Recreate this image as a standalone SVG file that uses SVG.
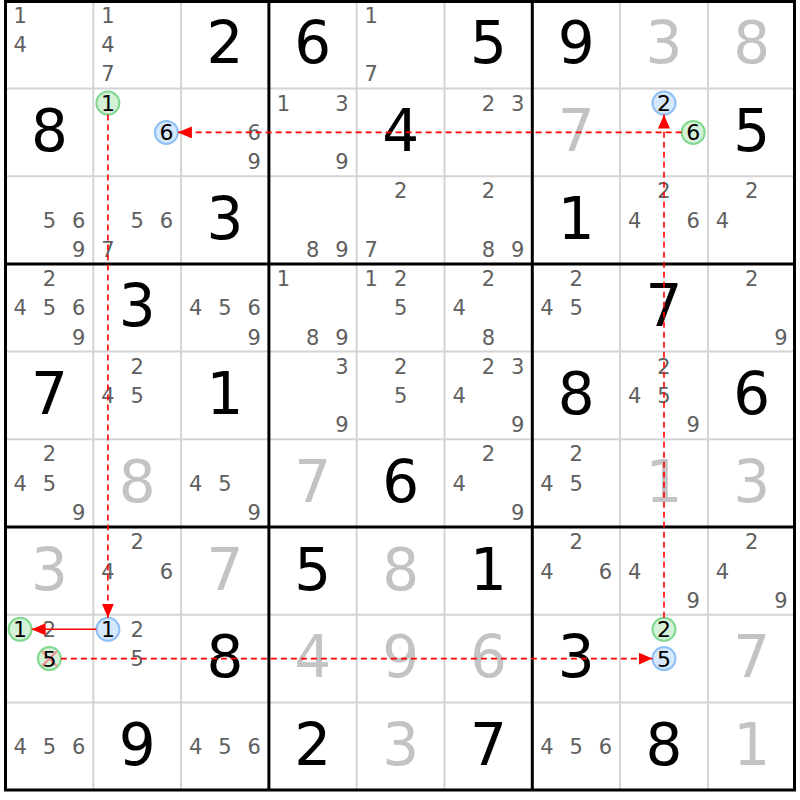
<svg xmlns="http://www.w3.org/2000/svg" width="800" height="800" viewBox="0 0 800 800">
<style>
text{font-family:"DejaVu Sans","Liberation Sans",sans-serif;text-anchor:middle}
.g{font-size:58px;fill:#000}
.s{font-size:58px;fill:#c3c3c3}
.c{font-size:21px;fill:#606060}
.nt{font-size:22px;fill:#000}
.thin{stroke:#d4d4d4;stroke-width:2}
.thick{stroke:#000;stroke-width:3}
.nb{fill:#d6e8fb;stroke:#8ec0f5;stroke-width:2}
.ng{fill:#d5f2d9;stroke:#80d88f;stroke-width:2}
.x{stroke:#f09090;stroke-width:2}
.lk{stroke:#ff0000;stroke-width:1.6;fill:none;marker-end:url(#ah)}
.d{stroke-dasharray:6,4}
</style>
<defs>
<marker id="ah" markerUnits="userSpaceOnUse" markerWidth="14" markerHeight="12" refX="14" refY="6" orient="auto">
<path d="M0,0 L14,6 L0,12 z" fill="#ff0000"/>
</marker>
</defs>
<rect x="0" y="0" width="800" height="800" fill="#fff"/>
<g id="grid">
<g class="thin">
<line x1="93.3" y1="1" x2="93.3" y2="790"/><line x1="181.1" y1="1" x2="181.1" y2="790"/>
<line x1="356.7" y1="1" x2="356.7" y2="790"/><line x1="444.5" y1="1" x2="444.5" y2="790"/>
<line x1="620.1" y1="1" x2="620.1" y2="790"/><line x1="707.9" y1="1" x2="707.9" y2="790"/>
<line x1="5" y1="88.5" x2="795" y2="88.5"/><line x1="5" y1="176.2" x2="795" y2="176.2"/>
<line x1="5" y1="351.6" x2="795" y2="351.6"/><line x1="5" y1="439.3" x2="795" y2="439.3"/>
<line x1="5" y1="614.7" x2="795" y2="614.7"/><line x1="5" y1="702.4" x2="795" y2="702.4"/>
</g>
<g class="thick">
<line x1="268.9" y1="1" x2="268.9" y2="790"/><line x1="532.3" y1="1" x2="532.3" y2="790"/>
<line x1="5" y1="263.9" x2="795" y2="263.9"/><line x1="5" y1="527" x2="795" y2="527"/>
<rect x="5.5" y="1.5" width="789" height="788.5" fill="none"/>
</g>
</g>

<g id="r0c0" transform="translate(5.5,0.8)"><text class="c" x="14.6" y="22.2">1</text><text class="c" x="14.6" y="51.5">4</text></g>
<g id="r0c1" transform="translate(93.3,0.8)"><text class="c" x="14.6" y="22.2">1</text><text class="c" x="14.6" y="51.5">4</text><text class="c" x="14.6" y="80.7">7</text></g>
<g id="r0c2" transform="translate(181.1,0.8)"><text class="g" x="43.9" y="62.6">2</text></g>
<g id="r0c3" transform="translate(268.9,0.8)"><text class="g" x="43.9" y="62.6">6</text></g>
<g id="r0c4" transform="translate(356.7,0.8)"><text class="c" x="14.6" y="22.2">1</text><text class="c" x="14.6" y="80.7">7</text></g>
<g id="r0c5" transform="translate(444.5,0.8)"><text class="g" x="43.9" y="62.6">5</text></g>
<g id="r0c6" transform="translate(532.3,0.8)"><text class="g" x="43.9" y="62.6">9</text></g>
<g id="r0c7" transform="translate(620.1,0.8)"><text class="s" x="43.9" y="62.6">3</text></g>
<g id="r0c8" transform="translate(707.9,0.8)"><text class="s" x="43.9" y="62.6">8</text></g>

<g id="r1c0" transform="translate(5.5,88.5)"><text class="g" x="43.9" y="62.6">8</text></g>
<g id="r1c1" transform="translate(93.3,88.5)"><circle class="ng" cx="14.6" cy="14.6" r="11.5"/><text class="nt" x="14.6" y="22.6">1</text><circle class="nb" cx="73.1" cy="43.9" r="11.5"/><text class="nt" x="73.1" y="51.9">6</text></g>
<g id="r1c2" transform="translate(181.1,88.5)"><text class="c" x="73.1" y="51.5">6</text><text class="c" x="73.1" y="80.7">9</text></g>
<g id="r1c3" transform="translate(268.9,88.5)"><text class="c" x="14.6" y="22.2">1</text><text class="c" x="73.1" y="22.2">3</text><text class="c" x="73.1" y="80.7">9</text></g>
<g id="r1c4" transform="translate(356.7,88.5)"><text class="g" x="43.9" y="62.6">4</text></g>
<g id="r1c5" transform="translate(444.5,88.5)"><text class="c" x="43.9" y="22.2">2</text><text class="c" x="73.1" y="22.2">3</text></g>
<g id="r1c6" transform="translate(532.3,88.5)"><text class="s" x="43.9" y="62.6">7</text></g>
<g id="r1c7" transform="translate(620.1,88.5)"><circle class="nb" cx="43.9" cy="14.6" r="11.5"/><text class="nt" x="43.9" y="22.6">2</text><circle class="ng" cx="73.1" cy="43.9" r="11.5"/><text class="nt" x="73.1" y="51.9">6</text></g>
<g id="r1c8" transform="translate(707.9,88.5)"><text class="g" x="43.9" y="62.6">5</text></g>

<g id="r2c0" transform="translate(5.5,176.2)"><text class="c" x="43.9" y="51.5">5</text><text class="c" x="73.1" y="51.5">6</text><text class="c" x="73.1" y="80.7">9</text></g>
<g id="r2c1" transform="translate(93.3,176.2)"><text class="c" x="43.9" y="51.5">5</text><text class="c" x="73.1" y="51.5">6</text><text class="c" x="14.6" y="80.7">7</text></g>
<g id="r2c2" transform="translate(181.1,176.2)"><text class="g" x="43.9" y="62.6">3</text></g>
<g id="r2c3" transform="translate(268.9,176.2)"><text class="c" x="43.9" y="80.7">8</text><text class="c" x="73.1" y="80.7">9</text></g>
<g id="r2c4" transform="translate(356.7,176.2)"><text class="c" x="43.9" y="22.2">2</text><text class="c" x="14.6" y="80.7">7</text></g>
<g id="r2c5" transform="translate(444.5,176.2)"><text class="c" x="43.9" y="22.2">2</text><text class="c" x="43.9" y="80.7">8</text><text class="c" x="73.1" y="80.7">9</text></g>
<g id="r2c6" transform="translate(532.3,176.2)"><text class="g" x="43.9" y="62.6">1</text></g>
<g id="r2c7" transform="translate(620.1,176.2)"><text class="c" x="43.9" y="22.2">2</text><text class="c" x="14.6" y="51.5">4</text><text class="c" x="73.1" y="51.5">6</text></g>
<g id="r2c8" transform="translate(707.9,176.2)"><text class="c" x="43.9" y="22.2">2</text><text class="c" x="14.6" y="51.5">4</text></g>

<g id="r3c0" transform="translate(5.5,263.9)"><text class="c" x="43.9" y="22.2">2</text><text class="c" x="14.6" y="51.5">4</text><text class="c" x="43.9" y="51.5">5</text><text class="c" x="73.1" y="51.5">6</text><text class="c" x="73.1" y="80.7">9</text></g>
<g id="r3c1" transform="translate(93.3,263.9)"><text class="g" x="43.9" y="62.6">3</text></g>
<g id="r3c2" transform="translate(181.1,263.9)"><text class="c" x="14.6" y="51.5">4</text><text class="c" x="43.9" y="51.5">5</text><text class="c" x="73.1" y="51.5">6</text><text class="c" x="73.1" y="80.7">9</text></g>
<g id="r3c3" transform="translate(268.9,263.9)"><text class="c" x="14.6" y="22.2">1</text><text class="c" x="43.9" y="80.7">8</text><text class="c" x="73.1" y="80.7">9</text></g>
<g id="r3c4" transform="translate(356.7,263.9)"><text class="c" x="14.6" y="22.2">1</text><text class="c" x="43.9" y="22.2">2</text><text class="c" x="43.9" y="51.5">5</text></g>
<g id="r3c5" transform="translate(444.5,263.9)"><text class="c" x="43.9" y="22.2">2</text><text class="c" x="14.6" y="51.5">4</text><text class="c" x="43.9" y="80.7">8</text></g>
<g id="r3c6" transform="translate(532.3,263.9)"><text class="c" x="43.9" y="22.2">2</text><text class="c" x="14.6" y="51.5">4</text><text class="c" x="43.9" y="51.5">5</text></g>
<g id="r3c7" transform="translate(620.1,263.9)"><text class="g" x="43.9" y="62.6">7</text></g>
<g id="r3c8" transform="translate(707.9,263.9)"><text class="c" x="43.9" y="22.2">2</text><text class="c" x="73.1" y="80.7">9</text></g>

<g id="r4c0" transform="translate(5.5,351.6)"><text class="g" x="43.9" y="62.6">7</text></g>
<g id="r4c1" transform="translate(93.3,351.6)"><text class="c" x="43.9" y="22.2">2</text><text class="c" x="14.6" y="51.5">4</text><text class="c" x="43.9" y="51.5">5</text></g>
<g id="r4c2" transform="translate(181.1,351.6)"><text class="g" x="43.9" y="62.6">1</text></g>
<g id="r4c3" transform="translate(268.9,351.6)"><text class="c" x="73.1" y="22.2">3</text><text class="c" x="73.1" y="80.7">9</text></g>
<g id="r4c4" transform="translate(356.7,351.6)"><text class="c" x="43.9" y="22.2">2</text><text class="c" x="43.9" y="51.5">5</text></g>
<g id="r4c5" transform="translate(444.5,351.6)"><text class="c" x="43.9" y="22.2">2</text><text class="c" x="73.1" y="22.2">3</text><text class="c" x="14.6" y="51.5">4</text><text class="c" x="73.1" y="80.7">9</text></g>
<g id="r4c6" transform="translate(532.3,351.6)"><text class="g" x="43.9" y="62.6">8</text></g>
<g id="r4c7" transform="translate(620.1,351.6)"><text class="c" x="43.9" y="22.2">2</text><text class="c" x="14.6" y="51.5">4</text><text class="c" x="43.9" y="51.5">5</text><text class="c" x="73.1" y="80.7">9</text></g>
<g id="r4c8" transform="translate(707.9,351.6)"><text class="g" x="43.9" y="62.6">6</text></g>

<g id="r5c0" transform="translate(5.5,439.3)"><text class="c" x="43.9" y="22.2">2</text><text class="c" x="14.6" y="51.5">4</text><text class="c" x="43.9" y="51.5">5</text><text class="c" x="73.1" y="80.7">9</text></g>
<g id="r5c1" transform="translate(93.3,439.3)"><text class="s" x="43.9" y="62.6">8</text></g>
<g id="r5c2" transform="translate(181.1,439.3)"><text class="c" x="14.6" y="51.5">4</text><text class="c" x="43.9" y="51.5">5</text><text class="c" x="73.1" y="80.7">9</text></g>
<g id="r5c3" transform="translate(268.9,439.3)"><text class="s" x="43.9" y="62.6">7</text></g>
<g id="r5c4" transform="translate(356.7,439.3)"><text class="g" x="43.9" y="62.6">6</text></g>
<g id="r5c5" transform="translate(444.5,439.3)"><text class="c" x="43.9" y="22.2">2</text><text class="c" x="14.6" y="51.5">4</text><text class="c" x="73.1" y="80.7">9</text></g>
<g id="r5c6" transform="translate(532.3,439.3)"><text class="c" x="43.9" y="22.2">2</text><text class="c" x="14.6" y="51.5">4</text><text class="c" x="43.9" y="51.5">5</text></g>
<g id="r5c7" transform="translate(620.1,439.3)"><text class="s" x="43.9" y="62.6">1</text></g>
<g id="r5c8" transform="translate(707.9,439.3)"><text class="s" x="43.9" y="62.6">3</text></g>

<g id="r6c0" transform="translate(5.5,527)"><text class="s" x="43.9" y="62.6">3</text></g>
<g id="r6c1" transform="translate(93.3,527)"><text class="c" x="43.9" y="22.2">2</text><text class="c" x="14.6" y="51.5">4</text><text class="c" x="73.1" y="51.5">6</text></g>
<g id="r6c2" transform="translate(181.1,527)"><text class="s" x="43.9" y="62.6">7</text></g>
<g id="r6c3" transform="translate(268.9,527)"><text class="g" x="43.9" y="62.6">5</text></g>
<g id="r6c4" transform="translate(356.7,527)"><text class="s" x="43.9" y="62.6">8</text></g>
<g id="r6c5" transform="translate(444.5,527)"><text class="g" x="43.9" y="62.6">1</text></g>
<g id="r6c6" transform="translate(532.3,527)"><text class="c" x="43.9" y="22.2">2</text><text class="c" x="14.6" y="51.5">4</text><text class="c" x="73.1" y="51.5">6</text></g>
<g id="r6c7" transform="translate(620.1,527)"><text class="c" x="14.6" y="51.5">4</text><text class="c" x="73.1" y="80.7">9</text></g>
<g id="r6c8" transform="translate(707.9,527)"><text class="c" x="43.9" y="22.2">2</text><text class="c" x="14.6" y="51.5">4</text><text class="c" x="73.1" y="80.7">9</text></g>

<g id="r7c0" transform="translate(5.5,614.7)"><text class="c" x="43.9" y="22.2">2</text><circle class="ng" cx="14.6" cy="14.6" r="11.5"/><text class="nt" x="14.6" y="22.6">1</text><circle class="ng" cx="43.9" cy="43.9" r="11.5"/><path class="x" d="M36.5,36.5 L51.3,51.3 M51.3,36.5 L36.5,51.3"/><text class="nt" x="43.9" y="51.9">5</text></g>
<g id="r7c1" transform="translate(93.3,614.7)"><circle class="nb" cx="14.6" cy="14.6" r="11.5"/><text class="nt" x="14.6" y="22.6">1</text><text class="c" x="43.9" y="22.2">2</text><text class="c" x="43.9" y="51.5">5</text></g>
<g id="r7c2" transform="translate(181.1,614.7)"><text class="g" x="43.9" y="62.6">8</text></g>
<g id="r7c3" transform="translate(268.9,614.7)"><text class="s" x="43.9" y="62.6">4</text></g>
<g id="r7c4" transform="translate(356.7,614.7)"><text class="s" x="43.9" y="62.6">9</text></g>
<g id="r7c5" transform="translate(444.5,614.7)"><text class="s" x="43.9" y="62.6">6</text></g>
<g id="r7c6" transform="translate(532.3,614.7)"><text class="g" x="43.9" y="62.6">3</text></g>
<g id="r7c7" transform="translate(620.1,614.7)"><circle class="ng" cx="43.9" cy="14.6" r="11.5"/><text class="nt" x="43.9" y="22.6">2</text><circle class="nb" cx="43.9" cy="43.9" r="11.5"/><text class="nt" x="43.9" y="51.9">5</text></g>
<g id="r7c8" transform="translate(707.9,614.7)"><text class="s" x="43.9" y="62.6">7</text></g>

<g id="r8c0" transform="translate(5.5,702.4)"><text class="c" x="14.6" y="51.5">4</text><text class="c" x="43.9" y="51.5">5</text><text class="c" x="73.1" y="51.5">6</text></g>
<g id="r8c1" transform="translate(93.3,702.4)"><text class="g" x="43.9" y="62.6">9</text></g>
<g id="r8c2" transform="translate(181.1,702.4)"><text class="c" x="14.6" y="51.5">4</text><text class="c" x="43.9" y="51.5">5</text><text class="c" x="73.1" y="51.5">6</text></g>
<g id="r8c3" transform="translate(268.9,702.4)"><text class="g" x="43.9" y="62.6">2</text></g>
<g id="r8c4" transform="translate(356.7,702.4)"><text class="s" x="43.9" y="62.6">3</text></g>
<g id="r8c5" transform="translate(444.5,702.4)"><text class="g" x="43.9" y="62.6">7</text></g>
<g id="r8c6" transform="translate(532.3,702.4)"><text class="c" x="14.6" y="51.5">4</text><text class="c" x="43.9" y="51.5">5</text><text class="c" x="73.1" y="51.5">6</text></g>
<g id="r8c7" transform="translate(620.1,702.4)"><text class="g" x="43.9" y="62.6">8</text></g>
<g id="r8c8" transform="translate(707.9,702.4)"><text class="s" x="43.9" y="62.6">1</text></g>

<g id="links">
<line class="lk d" x1="681.6" y1="132.4" x2="177.9" y2="132.4"/>
<line class="lk d" x1="664" y1="617.8" x2="664" y2="114.6"/>
<line class="lk d" x1="107.9" y1="114.6" x2="107.9" y2="617.8"/>
<line class="lk" x1="96.4" y1="629.3" x2="31.6" y2="629.3"/>
<line class="lk d" x1="60.9" y1="658.6" x2="652.5" y2="658.6"/>
</g>
</svg>
